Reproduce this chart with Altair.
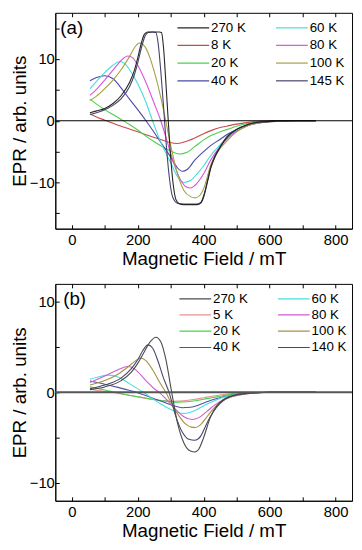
import altair as alt
import pandas as pd

FONT = "Liberation Sans"
X_DOMAIN = [-50, 850]
X_TICKS = [0, 100, 200, 300, 400, 500, 600, 700, 800]
ZERO = [0]

# ---------------- panel (a) ----------------
A_TAG = ["(a)"]
A_ORDER = ["270 K", "8 K", "20 K", "40 K", "60 K", "80 K", "100 K", "145 K"]
A_COLORS = ["#262626", "#c84a4c", "#4ccf4c", "#4a4aa6", "#45dcdc", "#dc50dc", "#a4a03e", "#44446a"]
A_YDOMAIN = [-17.5, 17.5]
A_YTICKS = [-15, -10, -5, 0, 5, 10, 15]

a270_x = [55, 75, 100, 125, 150, 175, 190, 200, 210, 220, 230, 250, 265, 272, 278, 285, 292, 300, 308, 316, 325, 340, 360, 380, 392, 402, 412, 422, 435, 450, 472, 500, 530, 570, 620, 680, 740]
a270_y = [1.3, 1.6, 2.0, 2.8, 4.1, 6.2, 8.2, 10.2, 12.4, 14.0, 14.4, 14.4, 14.4, 14.3, 12.0, 6.5, 0.5, -6.0, -10.5, -12.8, -13.4, -13.6, -13.6, -13.6, -13.3, -12.0, -9.8, -7.6, -5.8, -4.3, -2.6, -1.4, -0.7, -0.2, -0.05, 0.0, 0.0]

a145_x = [55, 75, 100, 125, 150, 175, 190, 200, 212, 222, 232, 245, 255, 262, 270, 278, 286, 295, 303, 312, 322, 340, 360, 380, 392, 402, 412, 422, 435, 450, 472, 500, 530, 570, 620, 680, 740]
a145_y = [1.0, 1.3, 1.8, 2.5, 3.6, 5.5, 7.5, 9.4, 12.0, 13.7, 14.3, 14.4, 14.3, 12.5, 8.0, 2.5, -3.5, -8.8, -11.8, -13.0, -13.4, -13.5, -13.5, -13.5, -13.2, -11.8, -9.6, -7.4, -5.6, -4.2, -2.5, -1.4, -0.7, -0.2, -0.05, 0.0, 0.0]

a100_x = [55, 75, 100, 125, 150, 175, 195, 205, 215, 230, 250, 270, 285, 300, 320, 340, 360, 375, 390, 400, 422, 450, 472, 500, 530, 570, 620, 680, 740]
a100_y = [3.3, 4.0, 5.2, 6.6, 8.3, 10.4, 12.2, 12.6, 12.4, 11.2, 8.0, 3.8, 0.0, -4.0, -8.5, -11.3, -12.3, -12.5, -12.0, -11.0, -7.1, -4.5, -3.2, -1.8, -0.9, -0.3, -0.1, 0.0, 0.0]

a80_x = [55, 75, 100, 125, 150, 170, 185, 200, 225, 250, 270, 290, 310, 330, 350, 360, 373, 400, 422, 450, 472, 500, 530, 570, 620, 680, 740]
a80_y = [4.1, 5.1, 6.6, 8.2, 9.8, 10.5, 10.2, 9.0, 6.2, 2.8, 0.0, -3.5, -7.0, -9.6, -10.8, -10.9, -10.5, -8.6, -6.3, -4.2, -2.9, -1.7, -0.9, -0.3, -0.1, 0.0, 0.0]

a60_x = [55, 75, 100, 125, 145, 160, 175, 200, 225, 245, 270, 300, 320, 340, 360, 380, 400, 422, 450, 472, 500, 530, 570, 620, 680, 740]
a60_y = [5.2, 6.4, 7.8, 9.0, 9.6, 9.3, 8.3, 6.0, 3.0, 0.0, -3.5, -6.8, -9.0, -10.0, -9.7, -8.6, -7.3, -5.6, -3.9, -2.7, -1.6, -0.85, -0.3, -0.1, 0.0, 0.0]

a40_x = [55, 75, 100, 125, 150, 175, 200, 225, 250, 275, 300, 320, 335, 350, 373, 400, 422, 450, 472, 500, 530, 570, 620, 680, 740]
a40_y = [6.5, 7.0, 7.3, 6.8, 5.3, 3.5, 1.8, 0.0, -1.9, -3.9, -5.9, -7.6, -8.2, -7.9, -6.4, -5.0, -4.0, -3.0, -2.2, -1.4, -0.8, -0.35, -0.1, 0.0, 0.0]

a20_x = [55, 75, 100, 125, 150, 175, 200, 225, 250, 275, 300, 325, 350, 373, 400, 422, 450, 472, 500, 530, 570, 620, 680, 740]
a20_y = [3.5, 2.7, 1.8, 1.0, 0.2, -0.6, -1.5, -2.5, -3.4, -4.2, -4.9, -5.4, -5.1, -4.2, -3.1, -2.4, -1.8, -1.4, -0.9, -0.5, -0.2, -0.05, 0.0, 0.0]

a8_x = [55, 75, 100, 150, 200, 250, 290, 320, 350, 373, 400, 422, 450, 472, 500, 530, 570, 620, 680, 740]
a8_y = [1.1, 0.6, 0.1, -0.9, -1.8, -2.7, -3.4, -3.7, -3.3, -2.8, -2.1, -1.6, -1.1, -0.85, -0.55, -0.3, -0.1, 0.0, 0.0, 0.0]

# ---------------- panel (b) ----------------
B_TAG = ["(b)"]
B_ORDER = ["270 K", "5 K", "20 K", "40 K", "60 K", "80 K", "100 K", "140 K"]
B_COLORS = ["#4a4a4a", "#e49494", "#4ccf4c", "#5050a4", "#4adede", "#d25ad2", "#a49244", "#46466a"]
B_YDOMAIN = [-12, 12]
B_YTICKS = [-10, -5, 0, 5, 10]

b270_x = [55, 100, 150, 180, 200, 220, 240, 255, 270, 285, 303, 320, 340, 360, 373, 385, 400, 420, 440, 460, 480, 500, 540, 600, 660, 740]
b270_y = [0.3, 0.6, 1.3, 2.2, 3.2, 4.5, 5.7, 6.1, 5.6, 3.7, 0.0, -3.3, -5.6, -6.5, -6.6, -6.3, -5.0, -2.8, -1.5, -0.8, -0.45, -0.25, -0.08, 0.0, 0.0, 0.0]

b140_x = [55, 100, 150, 180, 200, 215, 231, 245, 260, 278, 295, 315, 335, 355, 373, 390, 405, 420, 440, 460, 480, 500, 540, 600, 660, 740]
b140_y = [0.4, 0.8, 1.6, 2.6, 3.6, 4.6, 5.25, 4.9, 3.6, 1.6, 0.0, -2.6, -4.4, -5.2, -5.3, -4.9, -3.8, -2.7, -1.6, -0.9, -0.5, -0.3, -0.1, 0.0, 0.0, 0.0]

b100_x = [55, 100, 140, 170, 190, 209, 225, 245, 265, 285, 305, 325, 345, 362, 375, 390, 410, 430, 450, 470, 500, 540, 600, 660, 740]
b100_y = [0.8, 1.3, 2.0, 2.8, 3.4, 3.8, 3.5, 2.5, 1.2, 0.0, -1.4, -2.6, -3.5, -3.85, -3.9, -3.6, -2.7, -1.8, -1.1, -0.7, -0.35, -0.12, 0.0, 0.0, 0.0]

b80_x = [55, 100, 140, 170, 190, 210, 230, 250, 265, 290, 315, 340, 365, 385, 410, 430, 450, 470, 500, 540, 600, 660, 740]
b80_y = [1.1, 1.8, 2.5, 2.85, 2.6, 1.9, 1.1, 0.4, 0.0, -0.9, -1.9, -2.7, -3.0, -2.8, -2.1, -1.5, -1.0, -0.65, -0.35, -0.12, 0.0, 0.0, 0.0]

b60_x = [55, 80, 110, 140, 165, 190, 218, 245, 270, 300, 320, 340, 360, 385, 410, 435, 460, 490, 520, 560, 610, 670, 740]
b60_y = [1.45, 1.7, 1.9, 1.7, 1.2, 0.6, 0.0, -0.7, -1.3, -1.9, -2.2, -2.35, -2.2, -1.8, -1.3, -0.9, -0.55, -0.3, -0.15, -0.05, 0.0, 0.0, 0.0]

b40_x = [55, 100, 140, 170, 195, 220, 250, 280, 310, 335, 360, 385, 410, 435, 460, 490, 520, 560, 610, 670, 740]
b40_y = [1.25, 0.9, 0.55, 0.25, 0.0, -0.3, -0.7, -1.1, -1.5, -1.7, -1.65, -1.4, -1.05, -0.75, -0.5, -0.3, -0.15, -0.05, 0.0, 0.0, 0.0]

b20_x = [55, 100, 130, 170, 210, 250, 290, 320, 350, 380, 410, 440, 470, 500, 540, 600, 660, 740]
b20_y = [0.6, 0.25, 0.0, -0.3, -0.55, -0.8, -1.0, -1.1, -1.05, -0.9, -0.7, -0.5, -0.3, -0.18, -0.08, 0.0, 0.0, 0.0]

b5_x = [55, 100, 120, 160, 200, 240, 280, 310, 340, 370, 400, 430, 460, 500, 540, 600, 660, 740]
b5_y = [0.35, 0.1, 0.0, -0.25, -0.5, -0.75, -0.95, -1.0, -0.95, -0.8, -0.6, -0.4, -0.25, -0.12, -0.05, 0.0, 0.0, 0.0]


def long_frame(series):
    rows = []
    for label, xs, ys in series:
        for x, y in zip(xs, ys):
            rows.append({"T": label, "B": x, "EPR": y})
    return pd.DataFrame(rows)


df_a = long_frame([
    ("8 K", a8_x, a8_y), ("20 K", a20_x, a20_y), ("40 K", a40_x, a40_y),
    ("60 K", a60_x, a60_y), ("80 K", a80_x, a80_y), ("100 K", a100_x, a100_y),
    ("145 K", a145_x, a145_y), ("270 K", a270_x, a270_y),
])
df_b = long_frame([
    ("5 K", b5_x, b5_y), ("20 K", b20_x, b20_y), ("40 K", b40_x, b40_y),
    ("60 K", b60_x, b60_y), ("80 K", b80_x, b80_y), ("100 K", b100_x, b100_y),
    ("140 K", b140_x, b140_y), ("270 K", b270_x, b270_y),
])

INWARD = {"expr": "-4"}


def panel(df, order, colors, ydom, yticks, height, tag, tag_x, zero_color, zero_w,
          leg_x, leg_y, row_pad):
    xs = alt.Scale(domain=X_DOMAIN, nice=False, zero=False)
    ys = alt.Scale(domain=ydom, nice=False, zero=False)
    x_axis = alt.Axis(values=X_TICKS, labelExpr="datum.value % 200 == 0 ? datum.label : ''",
                      title="Magnetic Field / mT", tickSize=INWARD, labelPadding=8,
                      titlePadding=2, grid=False, labelFlush=False)
    y_axis = alt.Axis(values=yticks, labelExpr="datum.value % 10 == 0 ? datum.label : ''",
                      title="EPR / arb. units", tickSize=INWARD, labelPadding=5,
                      titlePadding=0, grid=False, labelFlush=False)
    legend = alt.Legend(title=None, orient="none", legendX=leg_x, legendY=leg_y, columns=2,
                        padding=0, symbolType="M-2.3,0L2.3,0", symbolSize=196,
                        symbolStrokeWidth=1.2, labelFontSize=13.5, labelFont=FONT,
                        labelColor="black", labelOffset=10, columnPadding=27,
                        rowPadding=row_pad)
    zero = alt.Chart(pd.DataFrame({"z": ZERO})).mark_rule(
        color=zero_color, strokeWidth=zero_w).encode(y=alt.Y("z:Q", scale=ys, axis=None))
    lines = alt.Chart(df).mark_line(strokeWidth=1.1, interpolate="monotone").encode(
        x=alt.X("B:Q", scale=xs, axis=x_axis),
        y=alt.Y("EPR:Q", scale=ys, axis=y_axis),
        color=alt.Color("T:N", scale=alt.Scale(domain=order, range=colors), sort=order,
                        legend=legend),
    )
    top = alt.Chart(df).mark_point(opacity=0).encode(
        x=alt.X("B:Q", scale=xs, axis=alt.Axis(orient="top", values=X_TICKS, labels=False,
                                               domain=False, title=None, tickSize=INWARD,
                                               grid=False)))
    label = alt.Chart(pd.DataFrame({"tag": tag})).mark_text(
        align="left", baseline="alphabetic", fontSize=19, font=FONT, color="black").encode(
        text="tag:N", x=alt.value(tag_x), y=alt.value(21))
    return alt.layer(lines, zero, top, label).resolve_axis(
        x="independent", y="independent").properties(width=301, height=height)


pa = panel(df_a, A_ORDER, A_COLORS, A_YDOMAIN, A_YTICKS, 219, A_TAG, 5, "black", 1.2,
           132, 7, 3)
pb = panel(df_b, B_ORDER, B_COLORS, B_YDOMAIN, B_YTICKS, 220, B_TAG, 8, "#555555", 2.0,
           134, 7, 1.5)

chart = alt.vconcat(pa, pb, spacing=14).resolve_scale(color="independent").properties(
    padding={"left": 2, "top": 0, "right": 0, "bottom": 0}
).configure_view(stroke="black", strokeWidth=1).configure_axis(
    labelFont=FONT, titleFont=FONT, labelFontSize=15, titleFontSize=19,
    titleFontWeight="normal", labelColor="black", titleColor="black",
    domainColor="black", tickColor="black", domainWidth=1, tickWidth=1,
)

chart.save("out.html", embed_options={"renderer": "svg", "actions": False})
